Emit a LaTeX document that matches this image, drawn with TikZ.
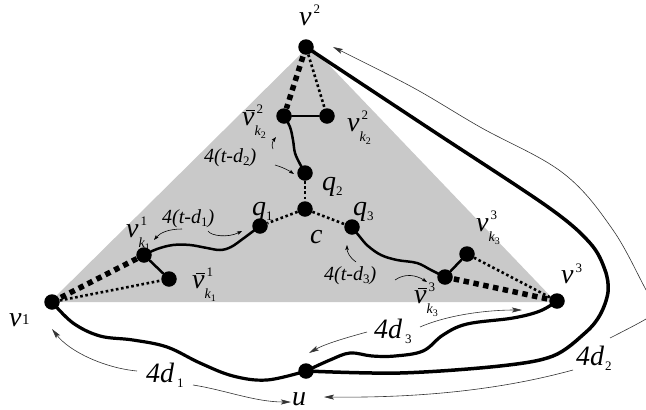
\documentclass[tikz,border=0pt]{standalone}
\usepackage{fontspec}
\setmainfont{Liberation Serif}[ItalicFont=Liberation Serif Italic]
\usetikzlibrary{arrows.meta}
\newcommand\Sp[2]{\raisebox{#1}{\fontsize{13}{13}\selectfont\upshape #2}}
\newcommand\Sb[2]{\raisebox{-#1}{\fontsize{13}{13}\selectfont\upshape #2}}
\newcommand\SupSub[3]{\rlap{\hspace{2pt}\Sp{12pt}{#1}}\raisebox{-10pt}{\fontsize{14}{14}\selectfont\itshape #2\raisebox{-3pt}{\fontsize{10}{10}\selectfont\upshape #3}}}
\newcommand\vbar{\rlap{\hspace{4pt}\rule[14.5pt]{9pt}{1pt}}v}
\begin{document}
\begin{tikzpicture}[x=1pt,y=-1pt,
  dot/.style={circle,fill=black,inner sep=0pt,minimum size=15.5pt},
  lab/.style={inner sep=0pt,anchor=base west,font=\fontsize{28}{28}\selectfont\itshape},
  tlab/.style={inner sep=0pt,anchor=base west,font=\fontsize{20}{20}\selectfont\itshape},
  hdash/.style={line width=5.5pt,dash pattern=on 5.5pt off 4.5pt},
  dotl/.style={line width=2.6pt,dash pattern=on 2.6pt off 2.6pt},
  wline/.style={line width=2.5pt,line cap=round},
  rline/.style={line width=3.2pt,line cap=round,line join=round},
  narrow/.style={line width=0.6pt,black!80,-{Stealth[length=10pt,width=5pt,inset=2pt]}},
  sarrow/.style={line width=0.6pt,-{Stealth[length=5pt,width=3.5pt,inset=1pt]}}]
\useasboundingbox (0,0) rectangle (646,410);
\clip (0,0) rectangle (646,410);
\fill[black!21] (310,45) -- (50,302) -- (556,302) -- cycle;
% vertices
\node[dot] (v1) at (52,302) {};
\node[dot] (v2) at (306,47) {};
\node[dot] (v3) at (557,301) {};
\node[dot] (u) at (306,371) {};
\node[dot] (vb2) at (284,116) {};
\node[dot] (vk2) at (327,116) {};
\node[dot] (q2) at (305,173) {};
\node[dot] (c) at (305,209) {};
\node[dot] (q1) at (260,226) {};
\node[dot] (q3) at (352,227) {};
\node[dot] (vk1) at (144,255) {};
\node[dot] (vb1) at (169,279) {};
\node[dot] (vk3) at (467,254) {};
\node[dot] (vb3) at (445,277) {};
% edges inside the triangle
\draw[hdash] (v2.center) -- (vb2);
\draw[dotl] (v2) -- (vk2);
\draw[wline] (vb2) -- (vk2);
\draw[hdash] (v1.center) -- (vk1);
\draw[dotl] (v1) -- (vb1);
\draw[wline] (vk1) -- (vb1);
\draw[hdash] (v3.center) -- (vb3);
\draw[dotl] (v3) -- (vk3);
\draw[wline] (vb3) -- (vk3);
\draw[dotl] (q2) -- (c);
\draw[dotl] (c) -- (q1);
\draw[dotl] (c) -- (q3);
\draw[wline] plot[smooth,tension=0.6] coordinates {(vb2.center) (290,127) (293,140) (295,153) (300,164) (q2.center)};
\draw[wline] plot[smooth,tension=0.6] coordinates {(vk1.center) (157,249) (173,245) (190,245) (207,248) (220,250) (231,247) (244,238) (q1.center)};
\draw[wline] plot[smooth,tension=0.6] coordinates {(q3.center) (360,237) (368,246) (381,255) (397,260) (417,263) (431,270) (vb3.center)};
% outer routes
\draw[rline] plot[smooth,tension=0.6] coordinates {(v1.center) (73,323) (100,336) (133,340) (167,347) (200,363) (233,376) (267,380) (u.center)};
\draw[rline] plot[smooth,tension=0.6] coordinates {(u.center) (330,360) (350,353) (372,356) (395,356) (423,351) (443,335) (467,324) (513,318) (540,311) (v3.center)};
\draw[line width=3.5pt,line cap=round,line join=round] plot[smooth,tension=0.55] coordinates {(v2.center) (430,129) (548,207) (590,243) (605,270) (608,292) (600,315) (585,333) (553,356) (500,366) (400,373) (u.center)};
% labels
\node[lab] (lv2) at (299,25) {v\hspace{2pt}\Sp{12pt}{2}};
\node[lab] (lv1) at (9,326) {v\hspace{0.5pt}\raisebox{2pt}{\fontsize{15}{15}\selectfont\upshape 1}};
\node[lab] (lv3) at (561,283) {v\hspace{2pt}\Sp{11pt}{3}};
\node[lab] (lu) at (292,405) {u};
\node[lab] (l4d1) at (146,382) {4d\hspace{3pt}\Sb{5pt}{1}};
\node[lab] (l4d3) at (374,338) {4d\hspace{3pt}\Sb{5pt}{3}};
\node[lab] (l4d2) at (576,365) {4d\hspace{1pt}\Sb{5pt}{2}};
\node[lab] (lq1) at (252,215) {q\Sb{5pt}{1}};
\node[lab] (lq2) at (322,190) {q\Sb{5pt}{2}};
\node[lab] (lq3) at (353,215) {q\Sb{5pt}{3}};
\node[lab] (lc) at (310,243) {c};
\node[lab] (lvb2) at (242,125) {\vbar\SupSub{2}{k}{2}};
\node[lab] (lvk2) at (347,131) {v\SupSub{2}{k}{2}};
\node[lab] (lvk1) at (126,237) {v\SupSub{1}{k}{1}};
\node[lab] (lvb1) at (192,288) {\vbar\SupSub{1}{k}{1}};
\node[lab] (lvk3) at (476,231) {v\SupSub{3}{k}{3}};
\node[lab] (lvb3) at (414,303) {\vbar\SupSub{3}{k}{3}};
\node[tlab] (lt2) at (204,162) {4(t-d\Sb{3pt}{2})};
\node[tlab] (lt1) at (162,223) {4(t-d\Sb{3pt}{1})};
\node[tlab] (lt3) at (324,280) {4(t-d\Sb{3pt}{3})};
% annotation arrows
\coordinate (a1s) at (137,371); \coordinate (a1e) at (52,329);
\coordinate (a2s) at (193,385); \coordinate (a2e) at (291,402);
\coordinate (a3s) at (367,332); \coordinate (a3e) at (309,353);
\coordinate (a4s) at (420,327); \coordinate (a4e) at (522,310);
\coordinate (a5s) at (573,370); \coordinate (a5e) at (324,397);
\coordinate (a6s) at (610,338); \coordinate (a6e) at (333,47);
\draw[narrow] (a1s) .. controls (105,368) and (70,352) .. (a1e);
\draw[narrow] (a2s) .. controls (225,390) and (255,402) .. (a2e);
\draw[narrow] (a3s) .. controls (345,338) and (325,344) .. (a3e);
\draw[narrow] (a4s) .. controls (450,314) and (490,310) .. (a4e);
\draw[narrow] (a5s) .. controls (500,390) and (420,398) .. (a5e);
\draw[narrow] plot[smooth,tension=0.6] coordinates {(a6s) (646,319) (661,307) (649,295) (613,230) (563,173) (480,127) (412,87) (a6e)};
\coordinate (b1s) at (182,229); \coordinate (b1e) at (154,240);
\coordinate (b2s) at (208,231); \coordinate (b2e) at (242,231);
\coordinate (b3s) at (273,149); \coordinate (b3e) at (276,137);
\coordinate (b4s) at (275,165); \coordinate (b4e) at (294,174);
\coordinate (b5s) at (356,262); \coordinate (b5e) at (347,245);
\coordinate (b6s) at (395,280); \coordinate (b6e) at (427,282);
\draw[sarrow] (b1s) .. controls (168,229) and (160,233) .. (b1e);
\draw[sarrow] (b2s) .. controls (211,236) and (228,238) .. (b2e);
\draw[sarrow] (b3s) .. controls (271,145) and (273,141) .. (b3e);
\draw[sarrow] (b4s) .. controls (282,167) and (288,170) .. (b4e);
\draw[sarrow] (b5s) .. controls (350,258) and (347,252) .. (b5e);
\draw[sarrow] (b6s) .. controls (405,273) and (416,275) .. (b6e);
\end{tikzpicture}
\end{document}
